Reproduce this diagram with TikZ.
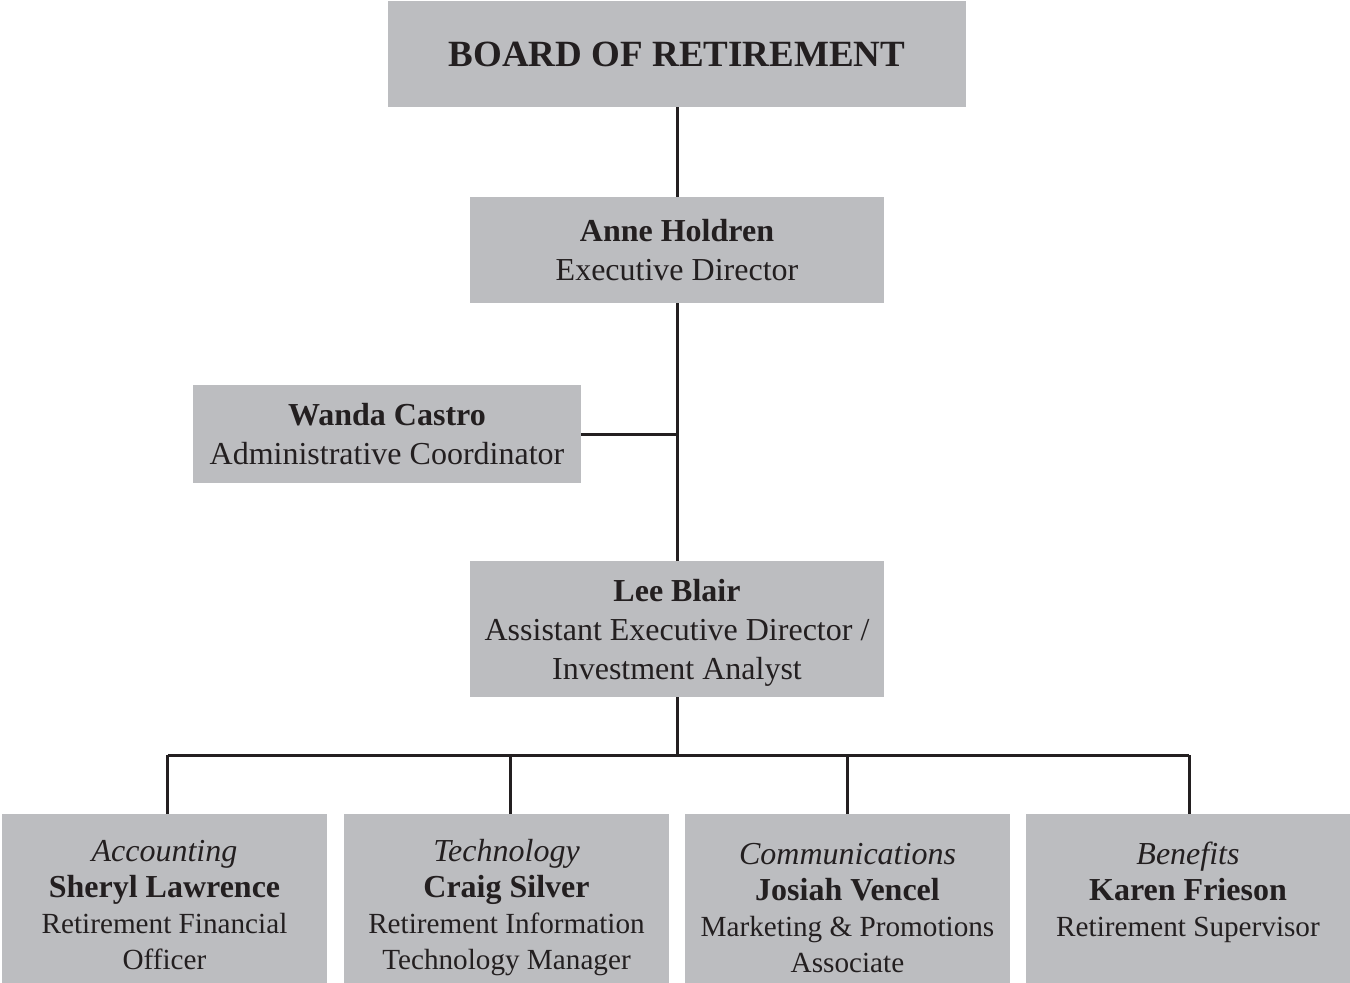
\documentclass[tikz,border=0pt]{standalone}
\usepackage{fontspec}
\setmainfont{Liberation Serif}
\usepackage{tikz}
\definecolor{boxgray}{RGB}{188,189,192}
\definecolor{inkdark}{RGB}{35,31,32}
\newcommand{\areaname}[1]{{\fontsize{16}{18}\selectfont\itshape\strut #1}}
\newcommand{\personname}[1]{{\fontsize{16}{18}\selectfont\bfseries #1}}

\begin{document}
\begin{tikzpicture}[x=0.5pt,y=0.5pt,yscale=-1,xscale=1,
    box/.style={fill=boxgray, text=inkdark, inner sep=0pt, align=center, font=\fontsize{16}{19.5}\selectfont},
    unitbox/.style={box, minimum width=162.5pt, minimum height=94pt, font=\fontsize{14.6}{18}\selectfont},
    link/.style={draw=inkdark, line width=1.5pt}]
    \useasboundingbox (0,0) rectangle (1350,982);

    %Shape: Board [id:board]
    \node [box, minimum width=289pt, minimum height=53pt, font=\fontsize{18.5}{22}\selectfont\bfseries] (board) at (677,54) {BOARD OF RETIREMENT};
    %Shape: Executive Director [id:anne]
    \node [box, minimum width=207pt, minimum height=53pt] (anne) at (677,250) {\textbf{Anne Holdren}\\Executive Director};
    %Shape: Administrative Coordinator [id:wanda]
    \node [box, minimum width=194pt, minimum height=49pt] (wanda) at (387,434) {\textbf{Wanda Castro}\\Administrative Coordinator};
    %Shape: Assistant Executive Director [id:lee]
    \node [box, minimum width=207pt, minimum height=68pt] (lee) at (677,629) {\rule{0pt}{17.5pt}\textbf{Lee Blair}\\Assistant Executive Director /\\Investment Analyst\strut};

    %Shape: Units [id:units]
    \node [unitbox] (acct) at (164.5,908) {\areaname{Accounting}\\\personname{Sheryl Lawrence}\\Retirement Financial\\Officer\strut};
    \node [unitbox] (tech) at (506.5,908) {\areaname{Technology}\\\personname{Craig Silver}\\Retirement Information\\Technology Manager\strut};
    \node [unitbox, minimum height=97pt] (comm) at (847.5,911) {\areaname{Communications}\\\personname{Josiah Vencel}\\Marketing \& Promotions\\Associate\strut};
    \node [unitbox, minimum height=97pt] (bene) at (1188,911) {\areaname{Benefits}\\\personname{Karen Frieson}\\Retirement Supervisor\\\strut};

    %Straight Lines [id:links]
    \draw [link] (board.south) -- (anne.north);
    \draw [link] (anne.south) -- (lee.north);
    \draw [link] (wanda.east) -- (wanda.east -| anne.south);

    %Straight Lines [id:bus]
    \coordinate (bus) at (677,755);
    \draw [link] (lee.south) -- (bus);
    \draw [link] ([xshift=1.5pt]bus -| acct.north) -- ([xshift=0.5pt]bus -| bene.north);
    \foreach \unit/\dx in {acct/1.5,tech/1.75,comm/0,bene/0.5}
        \draw [link] ([xshift=\dx pt]\unit.north) -- ([xshift=\dx pt]\unit.north |- bus);
\end{tikzpicture}
\end{document}
